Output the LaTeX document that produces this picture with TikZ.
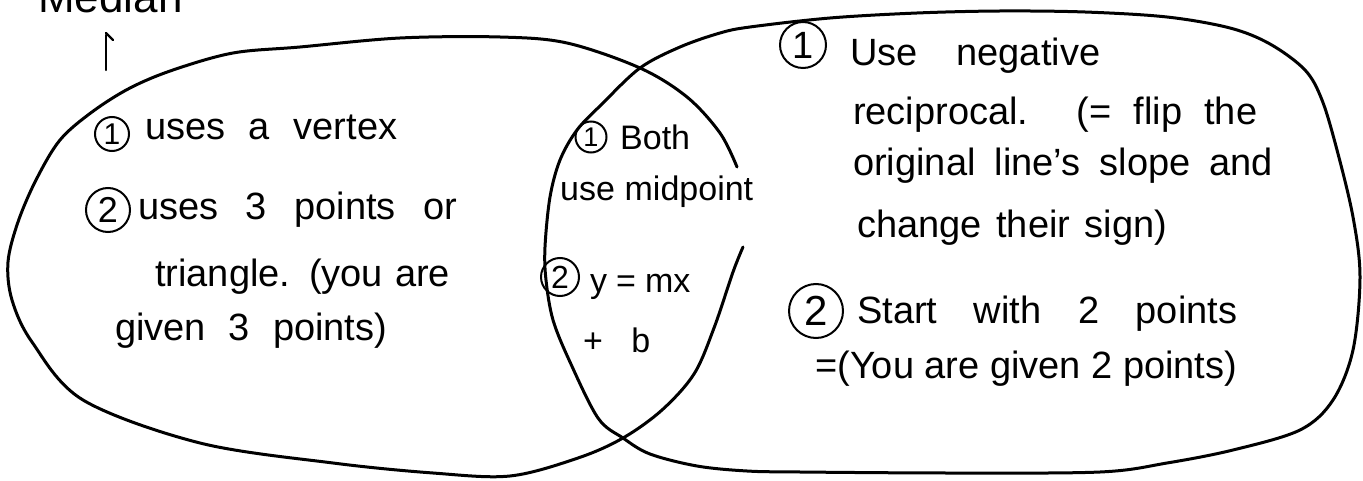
\documentclass[tikz,border=0pt]{standalone}
\usepackage{fontspec}
\setmainfont{Liberation Sans}
\begin{document}
\begin{tikzpicture}[x=1pt,y=-1pt,
  outline/.style={line width=3pt, line cap=round, line join=round},
  txt/.style={anchor=base west, inner sep=0pt, font=\fontsize{38}{40}\selectfont},
  midtxt/.style={anchor=base west, inner sep=0pt, font=\fontsize{34}{36}\selectfont},
  cnum/.style={draw, circle, line width=2pt, inner sep=0pt, minimum size=#1},
]
\useasboundingbox (0,0) rectangle (1363,481);
\fill[white] (0,0) rectangle (1363,481);

% left set
\draw[outline] plot[smooth, tension=0.55] coordinates {(743,247) (733,272) (714,328) (694,374) (662,410) (623,438) (578,458) (510,476) (433,473) (333,463) (200,443) (83,400) (32,342) (12,300) (8,262) (18,222) (36,180) (60,140) (92,112) (130,88) (173,70) (233,53) (300,47) (400,38) (500,37) (567,43) (640,68) (687,97) (720,133) (737,167)};

% right set
\draw[outline] plot[smooth cycle, tension=0.55] coordinates {(623,438) (598,418) (570,362) (553,320) (546,280) (545,247) (550,197) (560,160) (577,130) (602,104) (640,68) (680,47) (720,33) (750,27) (830,18) (917,13) (1000,11) (1085,12) (1167,17) (1230,28) (1270,44) (1305,70) (1322,100) (1337,150) (1353,217) (1360,277) (1353,350) (1333,400) (1300,430) (1233,450) (1167,463) (1100,472) (950,473) (800,472) (747,471) (697,466) (650,454)};

% title and arrow
\node[anchor=base west, inner sep=0pt, font=\fontsize{44}{44}\selectfont] (median) at (38,13) {Median};
\coordinate (arrB) at (106,70);
\coordinate (arrT) at (106,35);
\draw[line width=2.2pt, line cap=round] (arrB) -- (arrT);
\draw[line width=2.2pt, line cap=round] (arrT) ++(0,-2) -- ++(7,7);

% left texts
\node[cnum=34pt, font=\fontsize{30}{30}\selectfont] (l1) at (112,134) {1};
\node[txt] (l1t) at (145,140) {\makebox[252pt][s]{uses a vertex}};
\node[cnum=44pt, font=\fontsize{36}{36}\selectfont] (l2) at (108,210) {2};
\node[txt] (l2t) at (138,220) {\makebox[319pt][s]{uses 3 points or}};
\node[txt] (l3t) at (155,287) {\makebox[295pt][s]{triangle. (you are}};
\node[txt] (l4t) at (115,340) {\makebox[272pt][s]{given 3 points)}};

% middle texts
\node[cnum=31pt, font=\fontsize{27}{27}\selectfont] (m1) at (591,137) {1};
\node[midtxt] (m1t) at (620,150) {Both};
\node[midtxt] (m2t) at (560,201) {\makebox[193pt][s]{use midpoint}};
\node[cnum=38pt, font=\fontsize{32}{32}\selectfont] (m2) at (560,277) {2};
\node[midtxt] (m3t) at (590,292) {y\kern9pt=\kern9pt mx};
\node[midtxt] (m4t) at (583,352) {\makebox[67pt][s]{+ b}};

% right texts
\node[cnum=46pt, font=\fontsize{38}{38}\selectfont] (r1) at (803,45) {1};
\node[txt] (r1t) at (850,66) {\makebox[250pt][s]{Use negative}};
\node[txt] (r2t) at (853,125) {\makebox[404pt][s]{reciprocal. (= flip the}};
\node[txt] (r3t) at (853,176) {\makebox[420pt][s]{original line's slope and}};
\node[txt] (r4t) at (857,238) {\makebox[310pt][s]{change their sign)}};
\node[cnum=54pt, font=\fontsize{42}{42}\selectfont] (r5) at (816,311) {2};
\node[txt] (r5t) at (857,323) {\makebox[380pt][s]{Start with 2 points}};
\node[txt] (r6t) at (815,378) {\makebox[422pt][s]{=(You are given 2 points)}};
\end{tikzpicture}
\end{document}
